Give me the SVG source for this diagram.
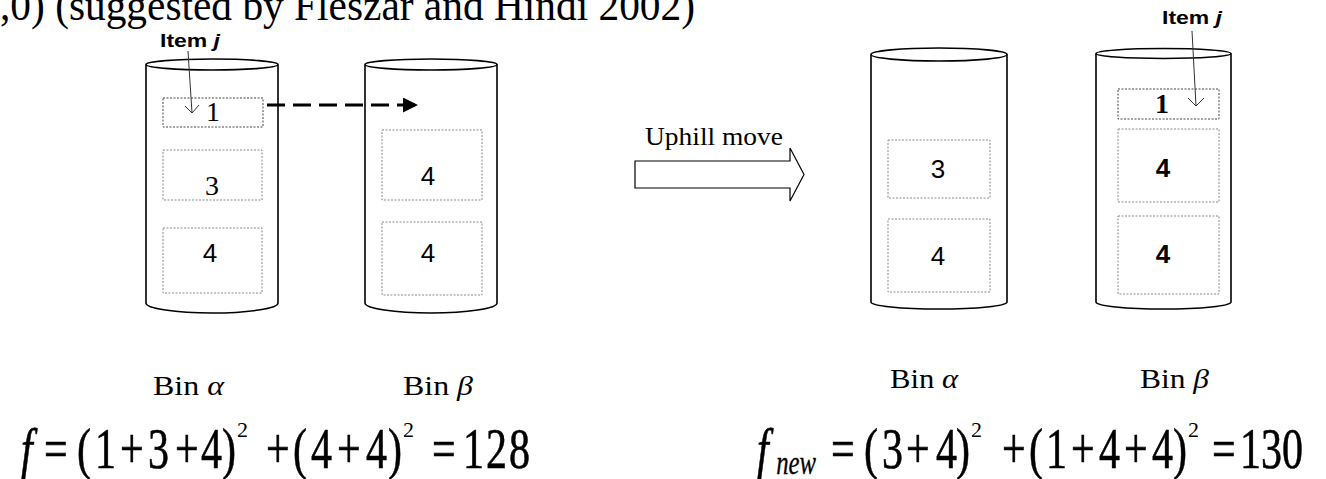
<svg xmlns="http://www.w3.org/2000/svg" width="1326" height="479" viewBox="0 0 1326 479">
<defs>
<style>
.bg{fill:#fff}
.cyl{fill:none;stroke:#000;stroke-width:1.6}
.box{fill:none;stroke:#888;stroke-width:1;stroke-dasharray:2 1.5}
.boxd{fill:none;stroke:#444;stroke-width:1;stroke-dasharray:2 1.5}
.serif{font-family:"Liberation Serif","Times New Roman",serif;fill:#000}
.sans{font-family:"Liberation Sans",Arial,sans-serif;fill:#000}
.num{font-size:26px;text-anchor:middle}
.lbl{font-family:"Liberation Sans",Arial,sans-serif;font-weight:bold;font-size:18px;fill:#000}
.ptr{fill:none;stroke:#333;stroke-width:1}
.fm{font-family:"Liberation Serif","Times New Roman",serif;font-size:56px;fill:#000;stroke:#000;stroke-width:0.6}
.sub{font-family:"Liberation Serif","Times New Roman",serif;font-size:33px;font-style:italic;fill:#000;stroke:#000;stroke-width:0.3}
.sup{font-family:"Liberation Serif","Times New Roman",serif;font-size:22px;fill:#000}
</style>
<marker id="tri" viewBox="0 0 10 10" refX="10" refY="5" markerWidth="21" markerHeight="15" markerUnits="userSpaceOnUse" orient="auto">
<path d="M0,0 L10,5 L0,10 Z" fill="#000"/>
</marker>
</defs>
<rect class="bg" x="0" y="0" width="1326" height="479"/>

<text class="serif" x="0" y="19.5" font-size="44" textLength="695" lengthAdjust="spacingAndGlyphs">,0) (suggested by Fleszar and Hindi 2002)</text>

<g id="bin-alpha-before">
<ellipse class="cyl" cx="212" cy="64.5" rx="66" ry="5.5"/>
<path class="cyl" d="M146,64.5 V303 A66,10 0 0 0 278,303 V64.5"/>
<rect class="boxd" x="163" y="98" width="100" height="29"/>
<rect class="box" x="163" y="150" width="99" height="50"/>
<rect class="box" x="163" y="228" width="99" height="65"/>
<text class="serif num" x="213" y="121" style="font-size:28px">1</text>
<text class="serif num" x="212" y="195" style="font-size:28px">3</text>
<text class="sans num" x="210" y="262">4</text>
<text class="serif" x="153" y="395" font-size="27" textLength="71" lengthAdjust="spacingAndGlyphs">Bin <tspan font-style="italic">α</tspan></text>
</g>

<g id="bin-beta-before">
<ellipse class="cyl" cx="431" cy="64.5" rx="66" ry="5.5"/>
<path class="cyl" d="M365,64.5 V303 A66,10 0 0 0 497,303 V64.5"/>
<rect class="box" x="382" y="130" width="100" height="70"/>
<rect class="box" x="382" y="222" width="100" height="73"/>
<text class="sans num" x="428" y="185">4</text>
<text class="sans num" x="428" y="262">4</text>
<text class="serif" x="403" y="395" font-size="27" textLength="70" lengthAdjust="spacingAndGlyphs">Bin <tspan font-style="italic">β</tspan></text>
</g>

<g id="item-j-before">
<text class="lbl" x="160" y="46.5" textLength="60" lengthAdjust="spacingAndGlyphs">Item <tspan font-style="italic">j</tspan></text>
<path class="ptr" d="M188,51 L192,113 M185,106 L192,113 L199,105"/>
</g>

<g id="uphill-move">
<path fill="#fff" stroke="#000" stroke-width="1.2" d="M635,161 H790 V148 L804,174.5 L790,201 V188 H635 Z"/>
<text class="serif" x="645" y="145" font-size="25" textLength="138" lengthAdjust="spacingAndGlyphs">Uphill move</text>
</g>

<g id="bin-alpha-after">
<ellipse class="cyl" cx="939" cy="54.5" rx="68" ry="6.5"/>
<path class="cyl" d="M871,54.5 V302 A68,7 0 0 0 1007,302 V54.5"/>
<rect class="box" x="888" y="140" width="102" height="58"/>
<rect class="box" x="888" y="219" width="102" height="73"/>
<text class="sans num" x="938" y="178">3</text>
<text class="sans num" x="938" y="265">4</text>
<text class="serif" x="890" y="388" font-size="27" textLength="68" lengthAdjust="spacingAndGlyphs">Bin <tspan font-style="italic">α</tspan></text>
</g>

<g id="bin-beta-after">
<ellipse class="cyl" cx="1163.5" cy="53.5" rx="67.5" ry="5"/>
<path class="cyl" d="M1096,53.5 V302 A67.5,7 0 0 0 1231,302 V53.5"/>
<rect class="boxd" x="1118" y="89" width="101" height="30"/>
<rect class="box" x="1118" y="129" width="101" height="73"/>
<rect class="box" x="1118" y="216" width="101" height="78"/>
<text class="serif num" x="1162" y="113" style="font-size:28px;font-weight:bold">1</text>
<text class="sans num" x="1163" y="177" font-weight="bold">4</text>
<text class="sans num" x="1163" y="263" font-weight="bold">4</text>
<text class="serif" x="1140" y="388" font-size="27" textLength="69" lengthAdjust="spacingAndGlyphs">Bin <tspan font-style="italic">β</tspan></text>
</g>

<g id="item-j-after">
<text class="lbl" x="1162" y="24" textLength="60" lengthAdjust="spacingAndGlyphs">Item <tspan font-style="italic">j</tspan></text>
<path class="ptr" d="M1192,31 L1196,106 M1188,98 L1196,106 L1204,98"/>
</g>

<g id="connectors">
<line x1="267" y1="105" x2="418" y2="105" stroke="#000" stroke-width="2.8" stroke-dasharray="18 8" marker-end="url(#tri)"/>
</g>

<g id="formula-before">
<g transform="scale(0.75,1)">
<text class="fm" font-style="italic" x="28" y="468">f</text>
<text class="fm" y="468" x="58.7 102.7 126.7 160 197.3 233.3 268 296">=(1+3+4)</text>
<text class="fm" y="468" x="354.7 390.7 414.7 449.3 488 517.3">+(4+4)</text>
<text class="fm" y="468" x="576 617.3 648 678.7">=128</text>
</g>
<text class="sup" x="237" y="437">2</text>
<text class="sup" x="403" y="437">2</text>
</g>

<g id="formula-after">
<g transform="scale(0.75,1)">
<text class="fm" font-style="italic" x="1009.3" y="468">f</text>
<text class="sub" x="1035" y="474">new</text>
<text class="fm" y="468" x="1108 1152 1176 1208 1248 1274.7">=(3+4)</text>
<text class="fm" y="468" x="1336 1372 1394.7 1428 1465.3 1498.7 1536 1564">+(1+4+4)</text>
<text class="fm" y="468" x="1616 1653.3 1681.3 1709.3">=130</text>
</g>
<text class="sup" x="971" y="437">2</text>
<text class="sup" x="1188" y="437">2</text>
</g>
</svg>
